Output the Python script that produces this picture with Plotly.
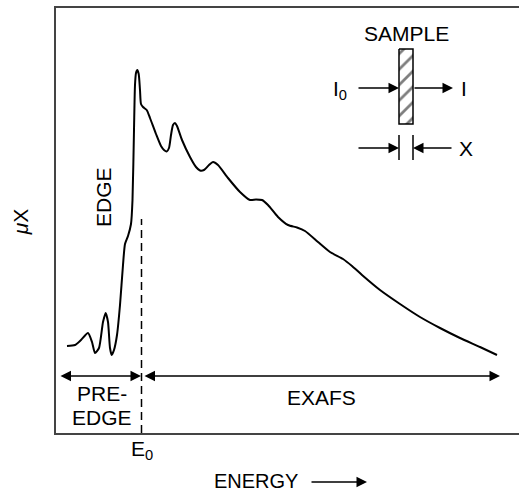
import plotly.graph_objects as go

# Absorption spectrum (arbitrary units: energy, muX)
energy = [11, 19, 25, 32, 36, 39, 43, 47, 49.7, 52, 54, 55.7, 58, 61, 64, 67, 69, 72, 75, 76.5,
          78, 79, 80, 81.3, 82.7, 84, 85, 87, 90.7, 94, 100, 105, 108, 110.7, 113, 115, 117, 119,
          121, 126, 134, 140, 144, 148, 153, 157, 162, 172, 184, 194, 200, 206, 212, 222, 232,
          241, 249, 262, 274, 287, 296, 306, 324, 344, 364, 384, 404, 424, 441]
mu_x = [87, 88, 93, 100, 91, 80, 85, 111, 120, 111, 85, 78, 83, 98, 128, 168, 189, 197, 209, 233,
        303, 348, 360, 363, 359, 343, 329, 326, 323, 315, 299, 287, 283, 281.5, 285, 298, 308, 310,
        307, 293, 276, 266, 262.5, 263, 268, 271, 268, 255, 241, 233, 233.5, 233, 228, 216, 208,
        205.5, 202, 191, 181, 174, 167, 158, 143, 129, 116, 105, 95, 86, 78]

# Region markers
e0 = 85.5
preedge_range = [3, 85]
exafs_range = [87, 444]
region_arrow_level = 57
edge_dash_top = 214

# Inset (sample sketch) geometry in data units
sample_x = [343, 357]
sample_y = [309, 384]
beam_level = 345
thick_level = 285

FONT = "Liberation Sans, Arial, Helvetica, sans-serif"
FS = 21
TXT = dict(size=FS, family=FONT, color="black")

fig = go.Figure()

fig.add_trace(go.Scatter(x=energy, y=mu_x, mode="lines",
                         line=dict(color="black", width=2, shape="spline", smoothing=0.6),
                         hoverinfo="skip", showlegend=False))

# hatched sample
fig.add_trace(go.Scatter(
    x=[sample_x[0], sample_x[1], sample_x[1], sample_x[0], sample_x[0]],
    y=[sample_y[1], sample_y[1], sample_y[0], sample_y[0], sample_y[1]],
    mode="lines", fill="toself", fillcolor="white",
    fillpattern=dict(shape="/", fgcolor="black", bgcolor="white", size=11, solidity=0.25),
    line=dict(color="black", width=1.5), hoverinfo="skip", showlegend=False))

shapes = [
    dict(type="line", xref="x", yref="y", x0=e0, x1=e0, y0=0, y1=edge_dash_top,
         line=dict(color="black", width=1.5, dash="8px,5px")),
    dict(type="line", xref="x", yref="y", x0=sample_x[0], x1=sample_x[0],
         y0=thick_level - 12, y1=thick_level + 13, line=dict(color="black", width=1.5)),
    dict(type="line", xref="x", yref="y", x0=sample_x[1], x1=sample_x[1],
         y0=thick_level - 12, y1=thick_level + 13, line=dict(color="black", width=1.5)),
]


def arrow(x_head, y_head, x_tail, y_tail, both=False):
    return dict(x=x_head, y=y_head, ax=x_tail, ay=y_tail, xref="x", yref="y",
                axref="x", ayref="y", text="", showarrow=True, arrowhead=2,
                arrowsize=1.4, arrowwidth=1.5, arrowcolor="black", standoff=0,
                startstandoff=0, arrowside="end+start" if both else "end",
                startarrowhead=2, startarrowsize=1.4)


def label(text, x, y, xref="x", yref="y", angle=0, size=FS):
    return dict(x=x, y=y, xref=xref, yref=yref, text=text, textangle=angle,
                showarrow=False, font=dict(size=size, family=FONT, color="black"),
                xanchor="center", yanchor="middle", borderpad=0)


annotations = [
    arrow(preedge_range[1], region_arrow_level, preedge_range[0], region_arrow_level, both=True),
    arrow(exafs_range[1], region_arrow_level, exafs_range[0], region_arrow_level, both=True),
    arrow(sample_x[0], beam_level, 301, beam_level),
    arrow(397, beam_level, sample_x[1], beam_level),
    arrow(sample_x[0], thick_level, 301, thick_level),
    arrow(sample_x[1], thick_level, 397, thick_level),
    # ENERGY arrow below the axis (y in paper units)
    dict(x=311, y=-0.115, xref="x", yref="paper", ax=-57, ay=0, axref="pixel", ayref="pixel",
         text="", showarrow=True, arrowhead=2, arrowsize=1.4, arrowwidth=1.5,
         arrowcolor="black", standoff=0),
    label("PRE-", 46, 40),
    label("EDGE", 46, 16),
    label("EXAFS", 265, 36),
    label("EDGE", 47, 236, angle=-90),
    label("<i>\u03bc</i>X", -0.077, 211, xref="paper", angle=-90),
    label("E<sub>0</sub>", 86, -0.04, yref="paper"),
    label("ENERGY", 200, -0.113, yref="paper", size=20),
    label("SAMPLE", 350, 400),
    label("I<sub>0</sub>", 284, 343),
    label("I", 408, 345),
    label("X", 410, 285),
]

fig.update_layout(
    width=519, height=492,
    margin=dict(l=56, r=0, t=8, b=59),
    paper_bgcolor="white", plot_bgcolor="white",
    showlegend=False, hovermode=False,
    shapes=shapes, annotations=annotations,
    xaxis=dict(range=[0, 463], showgrid=False, zeroline=False, showticklabels=False,
               ticks="", showline=True, mirror=True, linecolor="#444", linewidth=2,
               fixedrange=True),
    yaxis=dict(range=[0, 425], showgrid=False, zeroline=False, showticklabels=False,
               ticks="", showline=True, mirror=False, linecolor="#444", linewidth=2,
               fixedrange=True),
)

fig.write_html("out.html", config={"displayModeBar": False},
               post_script="document.body.style.margin='0';document.body.style.overflow='hidden';")
